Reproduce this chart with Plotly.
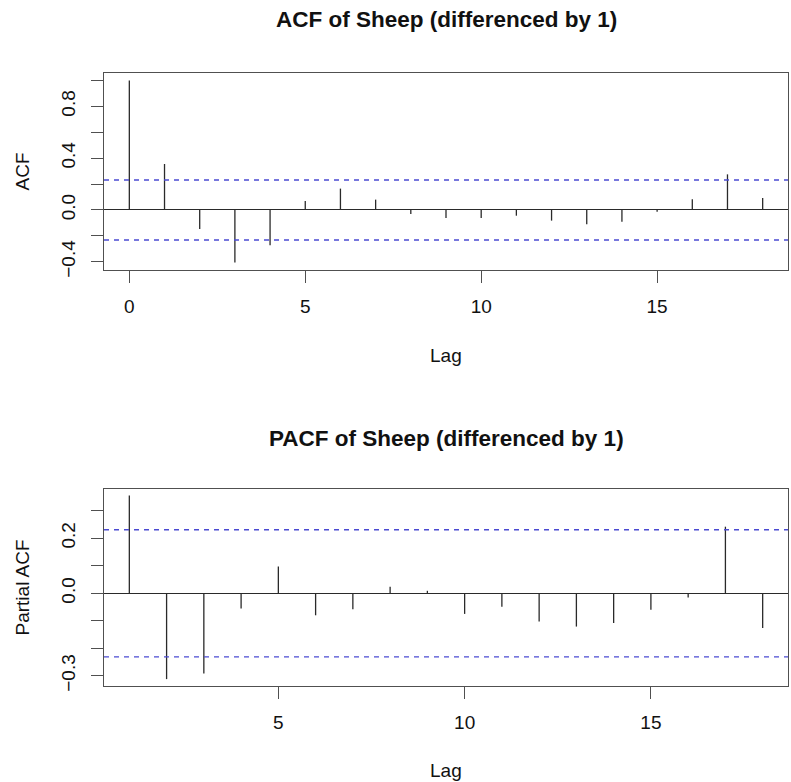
import plotly.graph_objects as go

# ---- data ----
acf_lags = list(range(0, 19))
acf_vals = [1.0, 0.355, -0.147, -0.406, -0.272, 0.069, 0.165, 0.080, -0.031,
            -0.062, -0.062, -0.044, -0.082, -0.110, -0.090, -0.013, 0.082, 0.275, 0.093]
pacf_lags = list(range(1, 19))
pacf_vals = [0.355, -0.312, -0.292, -0.055, 0.097, -0.080, -0.058, 0.024, 0.009,
             -0.075, -0.049, -0.103, -0.121, -0.108, -0.060, -0.015, 0.242, -0.126]
ci = 0.231

acf_title = "ACF of Sheep (differenced by 1)"
pacf_title = "PACF of Sheep (differenced by 1)"
acf_ytick_vals = [-0.4, -0.2, 0.0, 0.2, 0.4, 0.6, 0.8, 1.0]
acf_ytick_text = ["\u22120.4", "", "0.0", "", "0.4", "", "0.8", ""]
pacf_ytick_vals = [-0.3, -0.2, -0.1, 0.0, 0.1, 0.2, 0.3]
pacf_ytick_text = ["\u22120.3", "", "", "0.0", "", "0.2", ""]
acf_xticks = [0, 5, 10, 15]
pacf_xticks = [5, 10, 15]

# reference frame is 791x782; the figure is laid out in fractions of that frame
REF_W, REF_H = 791, 782
W, H = 791, 790
FONT = "Liberation Sans, Arial, sans-serif"
BOXC = "#505050"
STEMC = "#2a2a2a"
TXT = "#111111"


def stems(lags, vals):
    xs, ys = [], []
    for l, v in zip(lags, vals):
        xs += [l, l, None]
        ys += [0, v, None]
    return xs, ys


def fx(p):
    return p / REF_W


def fy(p):
    return 1 - p / REF_H


fig = go.Figure()
ax, ay = stems(acf_lags, acf_vals)
fig.add_trace(go.Scatter(x=ax, y=ay, mode="lines", line=dict(color=STEMC, width=1.3),
                         xaxis="x", yaxis="y", showlegend=False, hoverinfo="skip"))
bx, by = stems(pacf_lags, pacf_vals)
fig.add_trace(go.Scatter(x=bx, y=by, mode="lines", line=dict(color=STEMC, width=1.3),
                         xaxis="x2", yaxis="y2", showlegend=False, hoverinfo="skip"))

# plot region boxes in reference pixels
L, R = 104, 788
acf_top, acf_bot = 73, 270
pacf_top, pacf_bot = 489, 686

common_axis = dict(showgrid=False, showline=True, mirror=True, linecolor=BOXC, linewidth=1.3,
                   ticks="outside", ticklen=12, tickwidth=1.3, tickcolor=BOXC,
                   tickfont=dict(family=FONT, size=19, color=TXT))

fig.update_layout(
    width=W, height=H, margin=dict(l=0, r=0, t=0, b=0),
    paper_bgcolor="white", plot_bgcolor="white",
    xaxis=dict(domain=[fx(L), fx(R)], range=[-0.72, 18.72], tickvals=acf_xticks,
               zeroline=False, anchor="y", ticklabelstandoff=7, **common_axis),
    yaxis=dict(domain=[fy(acf_bot), fy(acf_top)], range=[-0.463, 1.057],
               tickvals=acf_ytick_vals, ticktext=acf_ytick_text, tickangle=-90,
               zeroline=True, zerolinecolor=STEMC, zerolinewidth=1.3, anchor="x",
               ticklabelstandoff=8, **common_axis),
    xaxis2=dict(domain=[fx(L), fx(R)], range=[0.32, 18.68], tickvals=pacf_xticks,
                zeroline=False, anchor="y2", ticklabelstandoff=7, **common_axis),
    yaxis2=dict(domain=[fy(pacf_bot), fy(pacf_top)], range=[-0.337, 0.379],
                tickvals=pacf_ytick_vals, ticktext=pacf_ytick_text, tickangle=-90,
                zeroline=True, zerolinecolor=STEMC, zerolinewidth=1.3, anchor="x2",
                ticklabelstandoff=8, **common_axis),
)

# confidence bounds
for yref, xref in (("y", "x domain"), ("y2", "x2 domain")):
    for s in (1, -1):
        fig.add_shape(type="line", xref=xref, yref=yref, x0=0, x1=1, y0=s * ci, y1=s * ci,
                      line=dict(color="#4b4bd2", width=1.4, dash="5px,5px"))

cx = fx((L + R) / 2)
ann = [
    dict(text="<b>" + acf_title + "</b>", x=cx, y=fy(20), size=22.5, angle=0),
    dict(text="<b>" + pacf_title + "</b>", x=cx, y=fy(438), size=22.5, angle=0),
    dict(text="Lag", x=cx, y=fy(355), size=19, angle=0),
    dict(text="Lag", x=cx, y=fy(770), size=19, angle=0),
    dict(text="ACF", x=fx(22), y=fy((acf_top + acf_bot) / 2), size=19, angle=-90),
    dict(text="Partial ACF", x=fx(22), y=fy((pacf_top + pacf_bot) / 2), size=19, angle=-90),
]
for a in ann:
    fig.add_annotation(text=a["text"], x=a["x"], y=a["y"], xref="paper", yref="paper",
                       xanchor="center", yanchor="middle", showarrow=False, textangle=a["angle"],
                       font=dict(family=FONT, size=a["size"], color=TXT))

# remove the browser's default 8px body margin; hide the hover toolbar
fig.write_html("out.html", config={"displayModeBar": False},
               post_script="document.body.style.margin='0px';")
